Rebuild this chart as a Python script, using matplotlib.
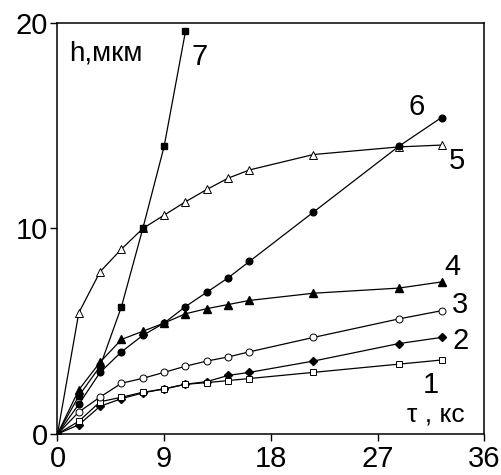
import matplotlib
matplotlib.use("Agg")
import matplotlib.pyplot as plt

# time points, ks (every 0.5 h, then 6, 8, 9 h)
tau = [0, 1.8, 3.6, 5.4, 7.2, 9.0, 10.8, 12.6, 14.4, 16.2, 21.6, 28.8, 32.4]
tau7 = [0, 1.8, 3.6, 5.4, 7.2, 9.0, 10.8]

h1 = [0, 0.62, 1.57, 1.79, 2.03, 2.19, 2.42, 2.5, 2.6, 2.7, 3.0, 3.4, 3.6]
h2 = [0, 0.45, 1.35, 1.72, 2.0, 2.2, 2.42, 2.55, 2.85, 3.0, 3.55, 4.4, 4.7]
h3 = [0, 1.07, 1.8, 2.47, 2.71, 3.0, 3.3, 3.55, 3.75, 4.0, 4.7, 5.6, 6.0]
h4 = [0, 2.15, 3.5, 4.6, 5.0, 5.4, 5.85, 6.1, 6.3, 6.5, 6.85, 7.1, 7.4]
h5 = [0, 5.9, 7.9, 9.0, 10.0, 10.65, 11.3, 11.9, 12.45, 12.85, 13.6, 13.97, 14.06]
h6 = [0, 1.45, 3.0, 4.0, 4.8, 5.4, 6.2, 6.9, 7.6, 8.4, 10.8, 14.0, 15.4]
h7 = [0, 1.85, 3.3, 6.2, 10.0, 14.0, 19.6]

curve_ids = ["1", "2", "3", "4", "5", "6", "7"]

plt.rcParams["font.family"] = ["Liberation Sans", "DejaVu Sans"]

fig = plt.figure(figsize=(5.02, 4.75), dpi=100)
ax = fig.add_axes([0.1145, 0.0863, 0.8500, 0.8653])

lw = 0.9
ax.plot(tau, h2, "-D", color="black", lw=lw, ms=4.0, mfc="black", mec="black", zorder=3)
ax.plot(tau, h1, "-s", color="black", lw=lw, ms=5.0, mfc="white", mec="black", mew=0.7, zorder=3)
ax.plot(tau, h3, "-o", color="black", lw=lw, ms=5.0, mfc="white", mec="black", mew=0.7, zorder=3)
ax.plot(tau, h4, "-^", color="black", lw=lw, ms=5.5, mfc="black", mec="black", zorder=3)
ax.plot(tau, h5, "-^", color="black", lw=lw, ms=6.0, mfc="white", mec="black", mew=0.7, zorder=3)
ax.plot(tau, h6, "-o", color="black", lw=lw, ms=4.8, mfc="black", mec="black", zorder=3)
ax.plot(tau7, h7, "-s", color="black", lw=lw, ms=5.0, mfc="black", mec="black", zorder=4)

# curve numbers
label_pos = [(31.5, 2.4), (34.0, 4.55), (34.0, 6.3), (33.3, 8.15), (33.7, 13.3), (30.3, 15.9), (12.0, 18.35)]
for cid, (x, y) in zip(curve_ids, label_pos):
    ax.text(x, y, cid, fontsize=21, ha="center", va="center")

ax.text(1.0, 18.5, "h,мкм", fontsize=20, ha="left", va="center")
ax.text(29.5, 0.95, "τ , кс", fontsize=19, ha="left", va="center")

ax.set_xlim(0, 36)
ax.set_ylim(0, 20)
ax.set_xticks([0, 9, 18, 27, 36])
ax.set_yticks([0, 10, 20])
ax.tick_params(direction="out", length=5, width=1.0, labelsize=21, pad=2)
ax.tick_params(axis="x", pad=3)
for s in ax.spines.values():
    s.set_linewidth(1.1)

fig.savefig("out.png", dpi=100)
